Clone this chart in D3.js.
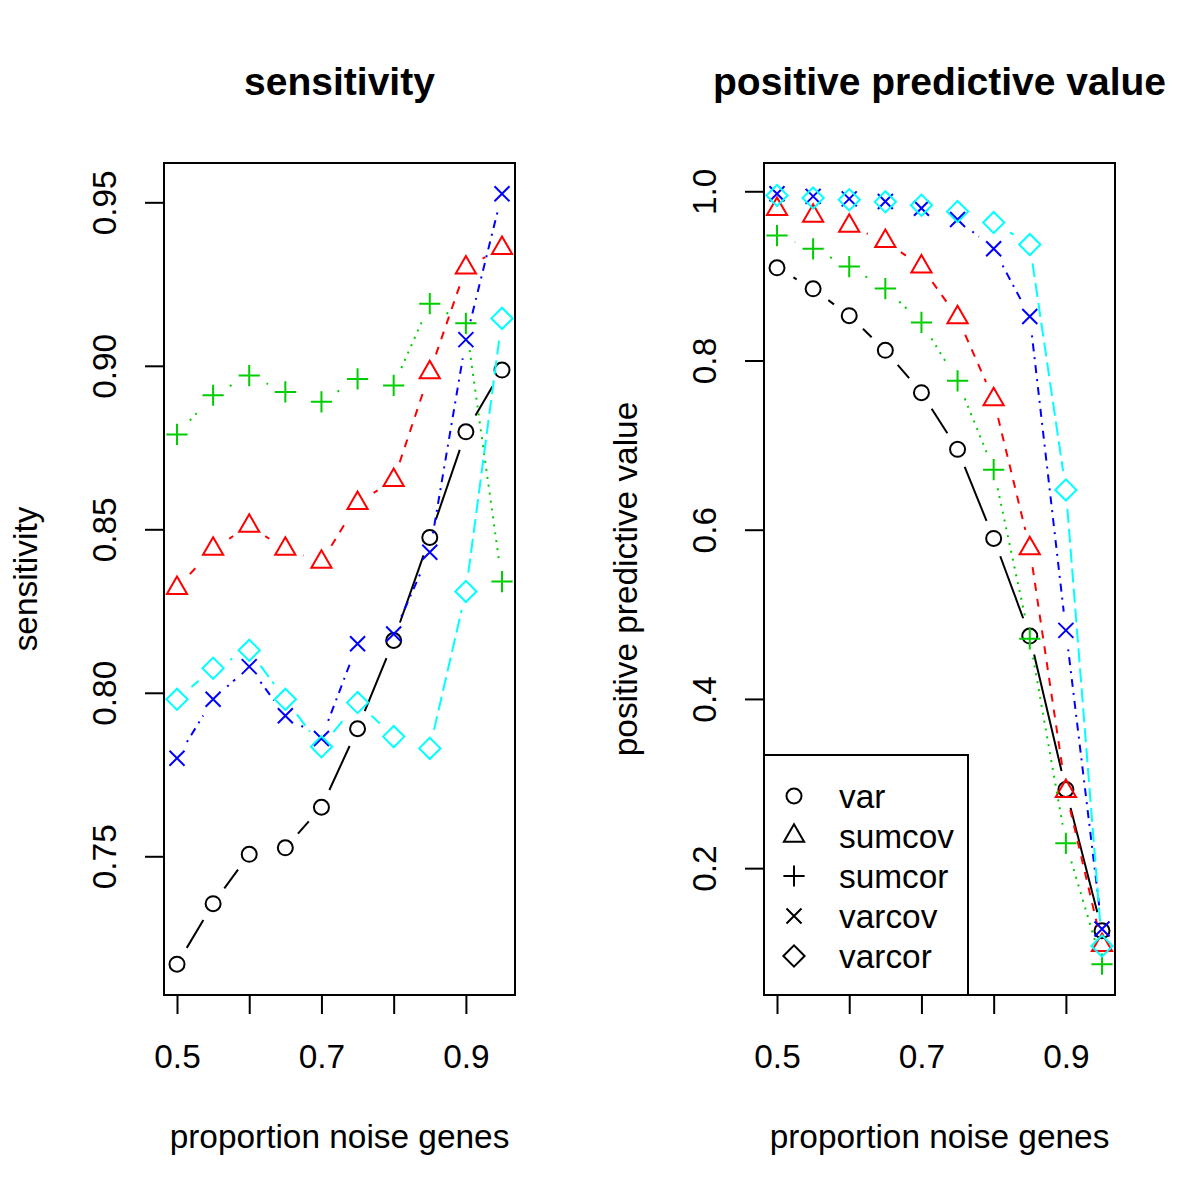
<!DOCTYPE html>
<html>
<head>
<meta charset="utf-8">
<script src="https://cdn.jsdelivr.net/npm/d3@7"></script>
<style>
html,body{margin:0;padding:0;background:#fff;}
svg text{font-family:"Liberation Sans",Arial,Helvetica,sans-serif;fill:#000;}
</style>
</head>
<body>
<svg id="chart" width="1200" height="1200"></svg>
<script>
// ---- data ----
const noiseProp = [0.5, 0.55, 0.6, 0.65, 0.7, 0.75, 0.8, 0.85, 0.9, 0.95];
const methods = ["var", "sumcov", "sumcor", "varcov", "varcor"];
const methodColors = ["#000000", "#FF0000", "#00CD00", "#0000FF", "#00FFFF"];
const methodSymbols = ["circle", "triangle", "plus", "times", "diamond"];
const methodDash = ["", "8,8", "2,6", "2,6,8,6", "14,6"];

const sensVar    = [0.717, 0.7355, 0.7506, 0.7526, 0.765, 0.789, 0.816, 0.8475, 0.8798, 0.8987];
const sensSumcov = [0.832, 0.844, 0.851, 0.844, 0.840, 0.858, 0.865, 0.898, 0.930, 0.936];
const sensSumcor = [0.879, 0.891, 0.897, 0.892, 0.889, 0.896, 0.894, 0.919, 0.913, 0.834];
const sensVarcov = [0.780, 0.798, 0.808, 0.793, 0.786, 0.815, 0.818, 0.843, 0.908, 0.9526];
const sensVarcor = [0.798, 0.8075, 0.813, 0.798, 0.7835, 0.797, 0.7866, 0.783, 0.831, 0.9145];

const ppvVar    = [0.9095, 0.8847, 0.853, 0.812, 0.762, 0.695, 0.5897, 0.4743, 0.293, 0.126];
const ppvSumcov = [0.979, 0.971, 0.959, 0.941, 0.911, 0.851, 0.754, 0.578, 0.291, 0.109];
const ppvSumcor = [0.9477, 0.932, 0.911, 0.885, 0.845, 0.776, 0.671, 0.471, 0.2294, 0.0865];
const ppvVarcov = [0.997, 0.994, 0.991, 0.988, 0.980, 0.9666, 0.932, 0.852, 0.481, 0.128];
const ppvVarcor = [0.995, 0.992, 0.990, 0.9875, 0.9835, 0.976, 0.963, 0.937, 0.647, 0.108];

const xTicks = [0.5, 0.6, 0.7, 0.8, 0.9];
const xTickLabels = ["0.5", "", "0.7", "", "0.9"];
const sensTicks = [0.75, 0.80, 0.85, 0.90, 0.95];
const sensTickLabels = ["0.75", "0.80", "0.85", "0.90", "0.95"];
const ppvTicks = [0.2, 0.4, 0.6, 0.8, 1.0];
const ppvTickLabels = ["0.2", "0.4", "0.6", "0.8", "1.0"];

// ---- drawing ----
const svg = d3.select("#chart");
const FS = 33.4;
const TFS = 39;
const R = 7.5;
const GAP = 19;

function symbolPath(type, cx, cy) {
  const p = d3.path();
  if (type === "circle") {
    p.moveTo(cx + R, cy); p.arc(cx, cy, R, 0, 2 * Math.PI);
  } else if (type === "triangle") {
    const r = 1.5551 * R, yc = 0.7776 * R, xc = 1.3468 * R;
    p.moveTo(cx, cy - r); p.lineTo(cx + xc, cy + yc); p.lineTo(cx - xc, cy + yc); p.closePath();
  } else if (type === "plus") {
    const a = Math.SQRT2 * R;
    p.moveTo(cx - a, cy); p.lineTo(cx + a, cy); p.moveTo(cx, cy - a); p.lineTo(cx, cy + a);
  } else if (type === "times") {
    p.moveTo(cx - R, cy - R); p.lineTo(cx + R, cy + R); p.moveTo(cx - R, cy + R); p.lineTo(cx + R, cy - R);
  } else if (type === "diamond") {
    const a = Math.SQRT2 * R;
    p.moveTo(cx - a, cy); p.lineTo(cx, cy - a); p.lineTo(cx + a, cy); p.lineTo(cx, cy + a); p.closePath();
  }
  return p.toString();
}

function extend(lo, hi) { const d = (hi - lo) * 0.04; return [lo - d, hi + d]; }

function drawPanel(opts) {
  const {left, right, top, bottom, series, yTicks, yTickLabels, yLabel, title, legend} = opts;
  const g = svg.append("g");
  const xDom = extend(d3.min(noiseProp), d3.max(noiseProp));
  const all = series.flat();
  const yDom = extend(d3.min(all), d3.max(all));
  const x = d3.scaleLinear().domain(xDom).range([left, right]);
  const y = d3.scaleLinear().domain(yDom).range([bottom, top]);

  // series
  series.forEach((vals, i) => {
    const pts = vals.map((v, j) => [x(noiseProp[j]), y(v)]);
    const sg = g.append("g");
    for (let j = 0; j < pts.length - 1; j++) {
      const [x0, y0] = pts[j], [x1, y1] = pts[j + 1];
      const L = Math.hypot(x1 - x0, y1 - y0);
      if (L <= 2 * GAP) continue;
      const ux = (x1 - x0) / L, uy = (y1 - y0) / L;
      sg.append("line")
        .attr("x1", x0 + ux * GAP).attr("y1", y0 + uy * GAP)
        .attr("x2", x1 - ux * GAP).attr("y2", y1 - uy * GAP)
        .attr("stroke", methodColors[i]).attr("stroke-width", 2)
        .attr("stroke-dasharray", methodDash[i] || null)
        .attr("fill", "none");
    }
    sg.selectAll("path.pt").data(pts).join("path")
      .attr("class", "pt")
      .attr("d", d => symbolPath(methodSymbols[i], d[0], d[1]))
      .attr("fill", "none").attr("stroke", methodColors[i]).attr("stroke-width", 2);
  });

  // box
  g.append("rect").attr("x", left).attr("y", top)
    .attr("width", right - left).attr("height", bottom - top)
    .attr("fill", "none").attr("stroke", "#000").attr("stroke-width", 2);

  // x axis
  const xa = d3.axisBottom(x).tickValues(xTicks).tickSize(19)
    .tickFormat((d, i) => xTickLabels[i]);
  const xg = g.append("g").attr("transform", `translate(0,${bottom})`).call(xa);
  xg.select(".domain").attr("d", `M${x(xTicks[0])},0H${x(xTicks[xTicks.length - 1])}`)
    .attr("stroke-width", 2);
  xg.selectAll(".tick line").attr("stroke-width", 2);
  xg.selectAll(".tick text").attr("y", 73).attr("dy", null)
    .attr("font-size", FS).attr("font-family", "Liberation Sans, Arial, sans-serif");

  // y axis
  const ya = d3.axisLeft(y).tickValues(yTicks).tickSize(19)
    .tickFormat((d, i) => yTickLabels[i]);
  const yg = g.append("g").attr("transform", `translate(${left},0)`).call(ya);
  yg.select(".domain").attr("d", `M0,${y(yTicks[0])}V${y(yTicks[yTicks.length - 1])}`)
    .attr("stroke-width", 2);
  yg.selectAll(".tick line").attr("stroke-width", 2);
  yg.selectAll(".tick text")
    .attr("x", null).attr("dy", null)
    .attr("transform", `translate(${-48},0) rotate(-90)`)
    .attr("text-anchor", "middle")
    .attr("font-size", FS).attr("font-family", "Liberation Sans, Arial, sans-serif");

  // labels
  const cx = (left + right) / 2, cy = (top + bottom) / 2;
  g.append("text").attr("x", cx).attr("y", 95).attr("text-anchor", "middle")
    .attr("font-size", TFS).attr("font-weight", "bold").text(title);
  g.append("text").attr("x", cx).attr("y", 1148).attr("text-anchor", "middle")
    .attr("font-size", FS).text("proportion noise genes");
  g.append("text").attr("transform", `translate(${left - 127},${cy}) rotate(-90)`)
    .attr("text-anchor", "middle").attr("font-size", FS).text(yLabel);

  if (legend) {
    const lx = left, ly = 755, lw = 204;
    const lg = g.append("g");
    lg.append("rect").attr("x", lx).attr("y", ly).attr("width", lw).attr("height", bottom - ly)
      .attr("fill", "#fff").attr("stroke", "#000").attr("stroke-width", 2);
    methods.forEach((m, i) => {
      const ry = 796 + i * 40;
      lg.append("path").attr("d", symbolPath(methodSymbols[i], lx + 30, ry))
        .attr("fill", "none").attr("stroke", "#000").attr("stroke-width", 2);
      lg.append("text").attr("x", lx + 75).attr("y", ry).attr("dy", "0.35em")
        .attr("font-size", FS).text(m);
    });
  }
}

drawPanel({left: 164, right: 515, top: 163, bottom: 995,
  series: [sensVar, sensSumcov, sensSumcor, sensVarcov, sensVarcor],
  yTicks: sensTicks, yTickLabels: sensTickLabels,
  yLabel: "sensitivity", title: "sensitivity", legend: false});

drawPanel({left: 764, right: 1115, top: 163, bottom: 995,
  series: [ppvVar, ppvSumcov, ppvSumcor, ppvVarcov, ppvVarcor],
  yTicks: ppvTicks, yTickLabels: ppvTickLabels,
  yLabel: "positive predictive value", title: "positive predictive value", legend: true});
</script>
</body>
</html>
